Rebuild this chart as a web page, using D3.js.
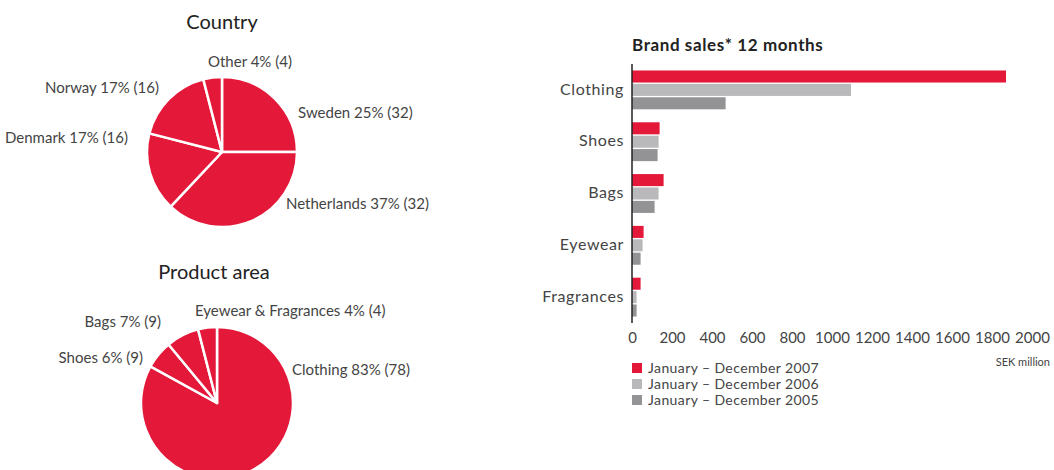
<!DOCTYPE html>
<html>
<head>
<meta charset="utf-8">
<script src="https://cdn.jsdelivr.net/npm/d3@7"></script>
<style>
  body { margin: 0; background: #fff; }
  svg text { font-family: Lato, "Noto Sans", sans-serif; fill: #444; }
  .title { fill: #222; }
</style>
</head>
<body>
<script>
// country split (% of sales, number of stores)
var countryNames = ["Sweden", "Netherlands", "Denmark", "Norway", "Other"];
var countryPct = [25, 37, 17, 17, 4];
var countryStores = [32, 32, 16, 16, 4];

// product area split
var productNames = ["Clothing", "Shoes", "Bags", "Eyewear & Fragrances"];
var productPct = [83, 6, 7, 4];
var productStores = [78, 9, 9, 4];

// brand sales, SEK million
var brandCats = ["Clothing", "Shoes", "Bags", "Eyewear", "Fragrances"];
var seriesNames = ["January \u2013 December 2007", "January \u2013 December 2006", "January \u2013 December 2005"];
var sales2007 = [1870, 138, 158, 58, 43];
var sales2006 = [1095, 133, 133, 53, 23];
var sales2005 = [468, 128, 113, 43, 23];
var xTicks = [0, 200, 400, 600, 800, 1000, 1200, 1400, 1600, 1800, 2000];

var RED = "#e4193a";
var seriesColors = [RED, "#b9b9bc", "#939396"];

// hand placed label anchors, relative to the pie centre
var countryLabelPos = [[76, -39, "start"], [64, 52, "start"], [-94, -14, "end"], [-63, -64, "end"], [-14, -90, "start"]];
var productLabelPos = [[75, -33, "start"], [-74, -45, "end"], [-56, -81, "end"], [-22, -92, "start"]];

var W = 1054, H = 470;
var svg = d3.select("body").append("svg")
	.attr("width", W)
	.attr("height", H);

function drawPie(cx, cy, r, title, titleX, titleY, names, pct, stores, labelPos) {
	svg.append("text")
		.attr("class", "title")
		.attr("x", titleX).attr("y", titleY)
		.attr("text-anchor", "middle")
		.attr("dy", "0.35em")
		.style("font-size", "20px")
		.text(title);

	var g = svg.append("g").attr("transform", "translate(" + cx + "," + cy + ")");
	var pie = d3.pie().sort(null).value(function (d) { return d; });
	var arc = d3.arc().innerRadius(0).outerRadius(r);

	g.selectAll("path")
		.data(pie(pct))
		.enter().append("path")
			.attr("d", arc)
			.style("fill", RED)
			.style("stroke", "#fff")
			.style("stroke-width", 2.5)
			.style("stroke-linejoin", "round");

	g.selectAll(".lbl")
		.data(names)
		.enter().append("text")
			.attr("class", "lbl")
			.attr("x", function (d, i) { return labelPos[i][0]; })
			.attr("y", function (d, i) { return labelPos[i][1]; })
			.attr("dy", "0.35em")
			.attr("text-anchor", function (d, i) { return labelPos[i][2]; })
			.style("font-size", "15px")
			.text(function (d, i) { return d + " " + pct[i] + "% (" + stores[i] + ")"; });
}

drawPie(222, 152, 75, "Country", 222, 22, countryNames, countryPct, countryStores, countryLabelPos);
drawPie(217, 403, 76, "Product area", 214, 272, productNames, productPct, productStores, productLabelPos);

// ---- bar chart ----
var x = d3.scaleLinear().domain([0, 2000]).range([632, 1032]);
var y0 = d3.scaleBand().domain(brandCats).range([64, 323]).paddingInner(0.25).paddingOuter(0.125);
var y1 = d3.scaleBand().domain([0, 1, 2]).range([0, y0.bandwidth()]).paddingInner(0.1);
var series = [sales2007, sales2006, sales2005];

svg.append("text")
	.attr("class", "title")
	.attr("x", 632).attr("y", 51)
	.style("font-size", "17px")
	.style("font-weight", "bold")
	.style("letter-spacing", "0.6px")
	.text("Brand sales* 12 months");

var groups = svg.selectAll(".grp")
	.data(brandCats)
	.enter().append("g")
		.attr("class", "grp")
		.attr("transform", function (d) { return "translate(0," + y0(d) + ")"; });

groups.selectAll("rect")
	.data(function (d, ci) { return series.map(function (s, si) { return {s: si, v: s[ci]}; }); })
	.enter().append("rect")
		.attr("x", x(0))
		.attr("y", function (d) { return y1(d.s); })
		.attr("width", function (d) { return x(d.v) - x(0); })
		.attr("height", y1.bandwidth())
		.style("fill", function (d) { return seriesColors[d.s]; });

groups.append("text")
	.attr("x", 624)
	.attr("y", y0.bandwidth() / 2)
	.attr("dy", "0.3em")
	.attr("text-anchor", "end")
	.style("font-size", "16px")
	.style("letter-spacing", "0.6px")
	.text(function (d) { return d; });

svg.append("line")
	.attr("x1", x(0)).attr("x2", x(0))
	.attr("y1", 64).attr("y2", 323)
	.style("stroke", "#222")
	.style("stroke-width", 1.5);

var xAxis = svg.append("g")
	.attr("transform", "translate(0,332)")
	.call(d3.axisBottom(x).tickValues(xTicks).tickSize(0).tickPadding(0).tickFormat(d3.format("d")));
xAxis.select(".domain").remove();
xAxis.selectAll("text")
	.attr("dy", "0.71em")
	.style("font-size", "15px")
	.style("font-family", "Lato, 'Noto Sans', sans-serif")
	.style("fill", "#444");

svg.append("text")
	.attr("x", 1050).attr("y", 362)
	.attr("dy", "0.35em")
	.attr("text-anchor", "end")
	.style("font-size", "11px")
	.text("SEK million");

var legend = svg.selectAll(".leg")
	.data(seriesNames)
	.enter().append("g")
		.attr("class", "leg")
		.attr("transform", function (d, i) { return "translate(632," + (363 + i * 16) + ")"; });
legend.append("rect")
	.attr("width", 10).attr("height", 10)
	.style("fill", function (d, i) { return seriesColors[i]; });
legend.append("text")
	.attr("x", 16).attr("y", 5)
	.attr("dy", "0.35em")
	.style("font-size", "14px")
	.style("letter-spacing", "0.4px")
	.text(function (d) { return d; });
</script>
</body>
</html>
